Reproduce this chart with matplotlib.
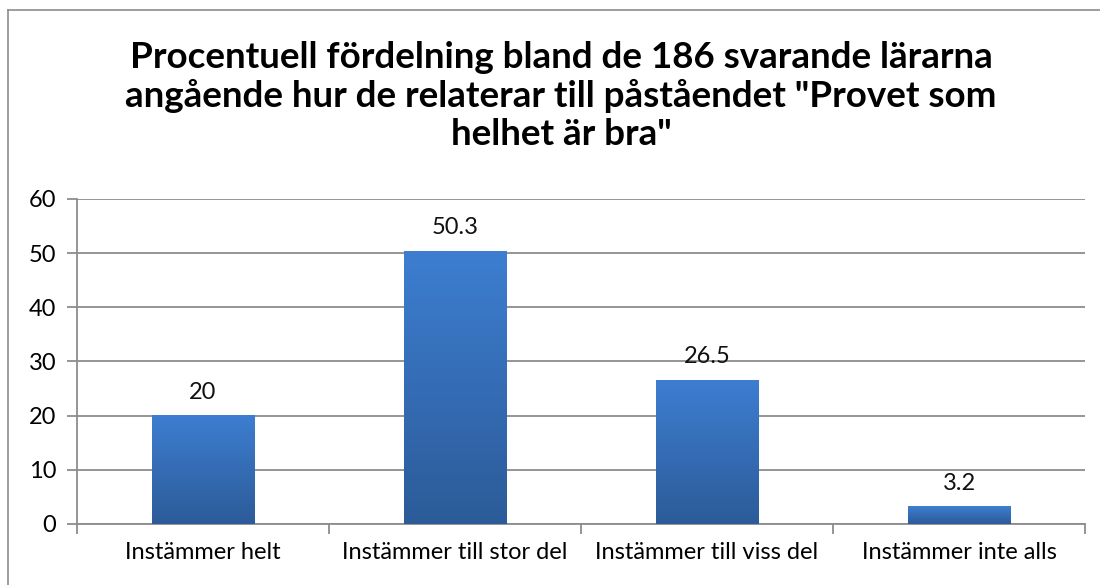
import numpy as np
import matplotlib.pyplot as plt
from matplotlib.colors import LinearSegmentedColormap
from matplotlib.lines import Line2D

plt.rcParams['font.family'] = ['Lato', 'DejaVu Sans']

categories = ["Instämmer helt", "Instämmer till stor del", "Instämmer till viss del", "Instämmer inte alls"]
values = [20, 50.3, 26.5, 3.2]
value_labels = ["20", "50.3", "26.5", "3.2"]
yticks = [0, 10, 20, 30, 40, 50, 60]
title = 'Procentuell fördelning bland de 186 svarande lärarna\nangående hur de relaterar till påståendet "Provet som\nhelhet är bra"'

fig = plt.figure(figsize=(11, 5.85), dpi=100)
ax = fig.add_axes([0.07, 0.1043, 0.9164, 0.5556])

# outer chart border (only top and left visible in the crop)
fig.add_artist(Line2D([8/1100, 8/1100], [0, 1 - 10/585], transform=fig.transFigure, color='#8c8c8c', lw=1.2))
fig.add_artist(Line2D([8/1100, 1], [1 - 10/585, 1 - 10/585], transform=fig.transFigure, color='#8c8c8c', lw=1.2))

cmap = LinearSegmentedColormap.from_list('bar', ['#2c5b98', '#3d7ed1'])
grad = np.linspace(0, 1, 256).reshape(-1, 1)
x = np.arange(len(categories))
w = 0.405
for xi, v, lab in zip(x, values, value_labels):
    ax.imshow(grad, extent=(xi - w/2, xi + w/2, 0, v), origin='lower', aspect='auto', cmap=cmap, zorder=3)
    ax.annotate(lab, (xi, v), xytext=(0, 17), textcoords='offset points', ha='center', va='center', fontsize=17, color='#111111')

ax.set_xlim(-0.5, 3.5)
ax.set_ylim(0, 60)
ax.set_yticks(yticks)
ax.yaxis.grid(True, color='#8c8c8c', lw=1.3, zorder=0)
ax.set_axisbelow(True)

ax.set_xticks(np.arange(-0.5, 4, 1))
ax.set_xticklabels([])
ax.set_xticks(x, minor=True)
ax.set_xticklabels(categories, minor=True)
ax.tick_params(axis='x', which='major', length=7, width=1.3, color='#8c8c8c', direction='out')
ax.tick_params(axis='x', which='minor', length=0, pad=13, labelsize=17)
ax.tick_params(axis='y', length=7, width=1.3, color='#8c8c8c', direction='out', labelsize=17, pad=8)

for s in ['top', 'right']:
    ax.spines[s].set_visible(False)
for s in ['left', 'bottom']:
    ax.spines[s].set_color('#8c8c8c')
    ax.spines[s].set_linewidth(1.3)

fig.text(561/1100, 1 - 96/585, title, ha='center', va='center', fontsize=26.5, fontweight='bold', linespacing=1.17)

fig.savefig('out.png', dpi=100)
